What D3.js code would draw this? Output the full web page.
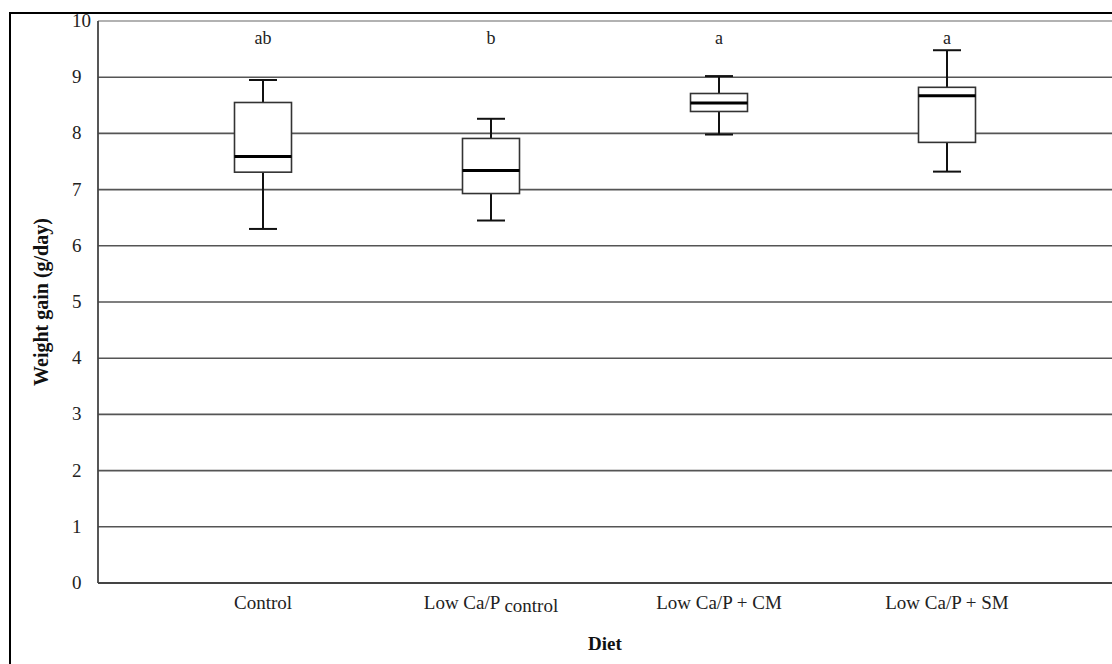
<!DOCTYPE html>
<html><head><meta charset="utf-8">
<script src="https://cdn.jsdelivr.net/npm/d3@7"></script>
<style>
html,body{margin:0;padding:0;background:#fff;}
svg{display:block;}
</style></head>
<body>
<svg id="chart" width="1112" height="664" font-family="'Liberation Serif', 'DejaVu Serif', serif"></svg>
<script>
const categories = ["Control", "Low Ca/P control", "Low Ca/P + CM", "Low Ca/P + SM"];
const whiskerLow = [6.30, 6.45, 7.98, 7.32];
const q1 = [7.31, 6.93, 8.39, 7.84];
const median = [7.59, 7.34, 8.54, 8.67];
const q3 = [8.55, 7.91, 8.71, 8.82];
const whiskerHigh = [8.95, 8.26, 9.02, 9.48];
const letters = ["ab", "b", "a", "a"];
const yTicks = [0,1,2,3,4,5,6,7,8,9,10];

const svg = d3.select("#chart");
const plotLeft = 98, plotRight = 1112, plotTop = 21, plotBottom = 583;
const FONT = "'Liberation Serif', 'DejaVu Serif', serif";

const y = d3.scaleLinear().domain([0,10]).range([plotBottom, plotTop]);
const x = d3.scaleBand().domain(categories).range([149, 1061]).paddingInner(0).paddingOuter(0);

// outer frame
svg.append("rect").attr("x",10).attr("y",13).attr("width",1140).attr("height",700)
  .attr("fill","none").attr("stroke","#000").attr("stroke-width",2);

// gridlines
svg.append("g").selectAll("line").data(yTicks.filter(d=>d>0)).join("line")
  .attr("x1",plotLeft).attr("x2",plotRight)
  .attr("y1",d=>y(d)).attr("y2",d=>y(d))
  .attr("stroke",d=>d===10?"#999":"#555").attr("stroke-width",1.6);

// axes lines
svg.append("line").attr("x1",plotLeft).attr("x2",plotLeft).attr("y1",plotTop).attr("y2",plotBottom)
  .attr("stroke","#444").attr("stroke-width",1.8);
svg.append("line").attr("x1",plotLeft).attr("x2",plotRight).attr("y1",plotBottom).attr("y2",plotBottom)
  .attr("stroke","#444").attr("stroke-width",2);

// y tick labels
svg.append("g").selectAll("text").data(yTicks).join("text")
  .attr("x",72).attr("y",d=>y(d)+6)
  .attr("font-family",FONT).attr("fill","#222")
  .attr("font-size",19).attr("text-anchor","start")
  .text(d=>d);

// boxes
const boxW = 57, capW = 28;
const g = svg.append("g");
categories.forEach((c,i)=>{
  const cx = x(c) + x.bandwidth()/2;
  g.append("line").attr("x1",cx).attr("x2",cx).attr("y1",y(whiskerHigh[i])).attr("y2",y(q3[i]))
    .attr("stroke","#111").attr("stroke-width",2);
  g.append("line").attr("x1",cx).attr("x2",cx).attr("y1",y(q1[i])).attr("y2",y(whiskerLow[i]))
    .attr("stroke","#111").attr("stroke-width",2);
  g.append("line").attr("x1",cx-capW/2).attr("x2",cx+capW/2).attr("y1",y(whiskerHigh[i])).attr("y2",y(whiskerHigh[i]))
    .attr("stroke","#111").attr("stroke-width",2);
  g.append("line").attr("x1",cx-capW/2).attr("x2",cx+capW/2).attr("y1",y(whiskerLow[i])).attr("y2",y(whiskerLow[i]))
    .attr("stroke","#111").attr("stroke-width",2);
  g.append("rect").attr("x",cx-boxW/2).attr("y",y(q3[i])).attr("width",boxW).attr("height",y(q1[i])-y(q3[i]))
    .attr("fill","#fff").attr("stroke","#333").attr("stroke-width",1.6);
  g.append("line").attr("x1",cx-boxW/2).attr("x2",cx+boxW/2).attr("y1",y(median[i])).attr("y2",y(median[i]))
    .attr("stroke","#000").attr("stroke-width",3);
  g.append("text").attr("x",cx).attr("y",44).attr("text-anchor","middle")
    .attr("font-family",FONT).attr("fill","#222").attr("font-size",18).text(letters[i]);
  const t = g.append("text").attr("x",cx).attr("y",609).attr("text-anchor","middle")
    .attr("font-family",FONT).attr("fill","#222").attr("font-size",19);
  if (c === "Low Ca/P control") {
    t.append("tspan").text("Low Ca/P ");
    t.append("tspan").attr("dy",3).text("control");
  } else {
    t.text(c);
  }
});

// axis titles
svg.append("text").attr("transform",`translate(48,${(plotTop+plotBottom)/2}) rotate(-90)`)
  .attr("text-anchor","middle").attr("font-size",20).attr("font-weight","bold")
  .attr("font-family",FONT).attr("fill","#111")
  .text("Weight gain (g/day)");
svg.append("text").attr("x",(plotLeft+plotRight)/2).attr("y",650)
  .attr("text-anchor","middle").attr("font-size",19).attr("font-weight","bold")
  .attr("font-family",FONT).attr("fill","#111")
  .text("Diet");
</script>
</body></html>
